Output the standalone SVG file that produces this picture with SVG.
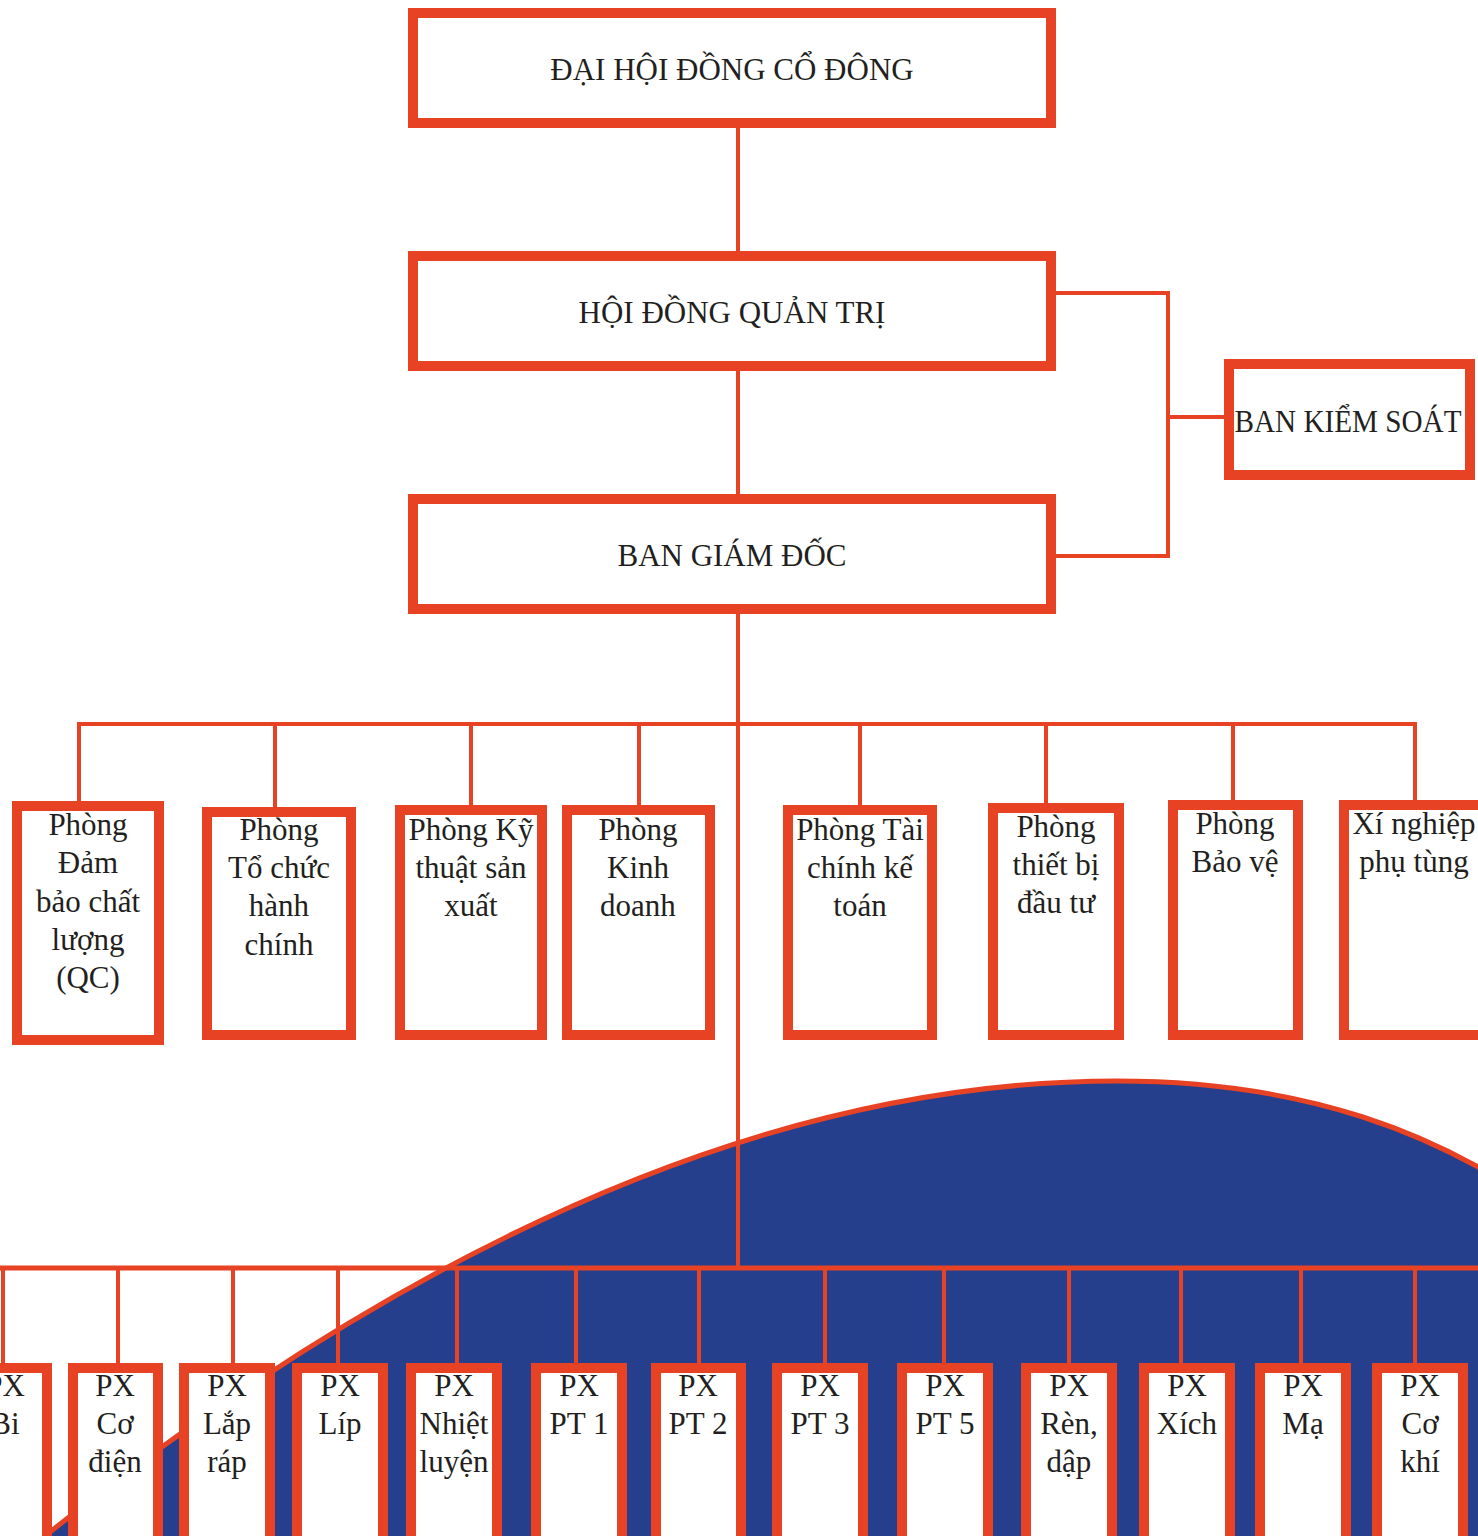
<svg xmlns="http://www.w3.org/2000/svg" width="1478" height="1536" viewBox="0 0 1478 1536">
  <style>
    .box { fill: #ffffff; stroke: #E84224; stroke-width: 10; }
    .line { stroke: #E84224; stroke-width: 4; fill: none; }
    .bus { stroke: #E84224; stroke-width: 5; fill: none; }
    .t { font-family: "Liberation Serif", "Times New Roman", serif; font-size: 31px; fill: #231F20; text-anchor: middle; }
  </style>

  <rect x="0" y="0" width="1478" height="1536" fill="#ffffff"/>

  <!-- blue backdrop hill behind the workshop row -->
  <path id="hill" d="M 40,1540 C 340,1300 717,1081 1117,1081 C 1300,1081 1440,1130 1560,1220 L 1600,1620 L -20,1620 Z" fill="#253F8D"/>

  <!-- connectors -->
  <g id="connectors">
    <!-- main trunk -->
    <line class="line" x1="738" y1="128" x2="738" y2="251"/>
    <line class="line" x1="738" y1="371" x2="738" y2="494"/>
    <line class="line" x1="738" y1="614" x2="738" y2="1268"/>
    <!-- supervisory board bracket -->
    <polyline class="line" points="1056,293 1168,293 1168,556 1056,556"/>
    <line class="line" x1="1168" y1="417" x2="1226" y2="417"/>
    <!-- departments bus -->
    <line class="line" x1="77" y1="724" x2="1417" y2="724"/>
    <line class="line" x1="79" y1="724" x2="79" y2="801"/>
    <line class="line" x1="275" y1="724" x2="275" y2="807"/>
    <line class="line" x1="471" y1="724" x2="471" y2="805"/>
    <line class="line" x1="639" y1="724" x2="639" y2="805"/>
    <line class="line" x1="860" y1="724" x2="860" y2="805"/>
    <line class="line" x1="1046" y1="724" x2="1046" y2="803"/>
    <line class="line" x1="1233" y1="724" x2="1233" y2="800"/>
    <line class="line" x1="1415" y1="724" x2="1415" y2="800"/>
    <!-- workshops bus -->
    <line class="bus" x1="0" y1="1268" x2="1478" y2="1268"/>
    <line class="line" x1="3" y1="1268" x2="3" y2="1363"/>
    <line class="line" x1="118" y1="1268" x2="118" y2="1363"/>
    <line class="line" x1="233" y1="1268" x2="233" y2="1363"/>
    <line class="line" x1="338" y1="1268" x2="338" y2="1363"/>
    <line class="line" x1="457" y1="1268" x2="457" y2="1363"/>
    <line class="line" x1="576" y1="1268" x2="576" y2="1363"/>
    <line class="line" x1="699" y1="1268" x2="699" y2="1363"/>
    <line class="line" x1="825" y1="1268" x2="825" y2="1363"/>
    <line class="line" x1="944" y1="1268" x2="944" y2="1363"/>
    <line class="line" x1="1069" y1="1268" x2="1069" y2="1363"/>
    <line class="line" x1="1181" y1="1268" x2="1181" y2="1363"/>
    <line class="line" x1="1301" y1="1268" x2="1301" y2="1363"/>
    <line class="line" x1="1415" y1="1268" x2="1415" y2="1363"/>
  </g>

  <!-- outline of the hill -->
  <path id="hill-edge" d="M 40,1540 C 340,1300 717,1081 1117,1081 C 1300,1081 1440,1130 1560,1220" fill="none" stroke="#E84224" stroke-width="5"/>

  <!-- top-level bodies -->
  <g id="dhdcd">
    <rect class="box" x="413" y="13" width="638" height="110"/>
    <text class="t" x="732" y="80">ĐẠI HỘI ĐỒNG CỔ ĐÔNG</text>
  </g>
  <g id="hdqt">
    <rect class="box" x="413" y="256" width="638" height="110"/>
    <text class="t" x="732" y="323">HỘI ĐỒNG QUẢN TRỊ</text>
  </g>
  <g id="bgd">
    <rect class="box" x="413" y="499" width="638" height="110"/>
    <text class="t" x="732" y="566">BAN GIÁM ĐỐC</text>
  </g>
  <g id="bks">
    <rect class="box" x="1229" y="364" width="241" height="111"/>
    <text class="t" x="1348" y="432" font-size="30" textLength="227" lengthAdjust="spacingAndGlyphs">BAN KIỂM SOÁT</text>
  </g>

  <!-- departments -->
  <g id="p-qc">
    <rect class="box" x="17" y="806" width="142" height="234"/>
    <text class="t" x="88"><tspan x="88" y="835">Phòng</tspan><tspan x="88" y="873">Đảm</tspan><tspan x="88" y="912">bảo chất</tspan><tspan x="88" y="950">lượng</tspan><tspan x="88" y="988">(QC)</tspan></text>
  </g>
  <g id="p-tchc">
    <rect class="box" x="207" y="812" width="144" height="223"/>
    <text class="t" x="279"><tspan x="279" y="840">Phòng</tspan><tspan x="279" y="878">Tổ chức</tspan><tspan x="279" y="916">hành</tspan><tspan x="279" y="955">chính</tspan></text>
  </g>
  <g id="p-ktsx">
    <rect class="box" x="400" y="810" width="142" height="225"/>
    <text class="t" x="471"><tspan x="471" y="840">Phòng Kỹ</tspan><tspan x="471" y="878">thuật sản</tspan><tspan x="471" y="916">xuất</tspan></text>
  </g>
  <g id="p-kd">
    <rect class="box" x="567" y="810" width="143" height="225"/>
    <text class="t" x="638"><tspan x="638" y="840">Phòng</tspan><tspan x="638" y="878">Kinh</tspan><tspan x="638" y="916">doanh</tspan></text>
  </g>
  <g id="p-tckt">
    <rect class="box" x="788" y="810" width="144" height="225"/>
    <text class="t" x="860"><tspan x="860" y="840">Phòng Tài</tspan><tspan x="860" y="878">chính kế</tspan><tspan x="860" y="916">toán</tspan></text>
  </g>
  <g id="p-tbdt">
    <rect class="box" x="993" y="808" width="126" height="227"/>
    <text class="t" x="1056"><tspan x="1056" y="837">Phòng</tspan><tspan x="1056" y="875">thiết bị</tspan><tspan x="1056" y="913">đầu tư</tspan></text>
  </g>
  <g id="p-bv">
    <rect class="box" x="1173" y="805" width="125" height="230"/>
    <text class="t" x="1235"><tspan x="1235" y="834">Phòng</tspan><tspan x="1235" y="872">Bảo vệ</tspan></text>
  </g>
  <g id="xn-pt">
    <rect class="box" x="1344" y="805" width="150" height="230"/>
    <text class="t" x="1414"><tspan x="1414" y="834">Xí nghiệp</tspan><tspan x="1414" y="872">phụ tùng</tspan></text>
  </g>

  <!-- workshops -->
  <g id="px-bi">
    <rect class="box" x="-38" y="1368" width="85" height="200"/>
    <text class="t"><tspan x="5" y="1396">PX</tspan><tspan x="5" y="1434">Bi</tspan></text>
  </g>
  <g id="px-codien">
    <rect class="box" x="73" y="1368" width="85" height="200"/>
    <text class="t"><tspan x="115" y="1396">PX</tspan><tspan x="115" y="1434">Cơ</tspan><tspan x="115" y="1472">điện</tspan></text>
  </g>
  <g id="px-laprap">
    <rect class="box" x="184" y="1368" width="86" height="200"/>
    <text class="t"><tspan x="227" y="1396">PX</tspan><tspan x="227" y="1434">Lắp</tspan><tspan x="227" y="1472">ráp</tspan></text>
  </g>
  <g id="px-lip">
    <rect class="box" x="297" y="1368" width="86" height="200"/>
    <text class="t"><tspan x="340" y="1396">PX</tspan><tspan x="340" y="1434">Líp</tspan></text>
  </g>
  <g id="px-nhietluyen">
    <rect class="box" x="411" y="1368" width="86" height="200"/>
    <text class="t"><tspan x="454" y="1396">PX</tspan><tspan x="454" y="1434">Nhiệt</tspan><tspan x="454" y="1472">luyện</tspan></text>
  </g>
  <g id="px-pt1">
    <rect class="box" x="536" y="1368" width="86" height="200"/>
    <text class="t"><tspan x="579" y="1396">PX</tspan><tspan x="579" y="1434">PT 1</tspan></text>
  </g>
  <g id="px-pt2">
    <rect class="box" x="656" y="1368" width="85" height="200"/>
    <text class="t"><tspan x="698" y="1396">PX</tspan><tspan x="698" y="1434">PT 2</tspan></text>
  </g>
  <g id="px-pt3">
    <rect class="box" x="777" y="1368" width="86" height="200"/>
    <text class="t"><tspan x="820" y="1396">PX</tspan><tspan x="820" y="1434">PT 3</tspan></text>
  </g>
  <g id="px-pt5">
    <rect class="box" x="902" y="1368" width="86" height="200"/>
    <text class="t"><tspan x="945" y="1396">PX</tspan><tspan x="945" y="1434">PT 5</tspan></text>
  </g>
  <g id="px-rendap">
    <rect class="box" x="1026" y="1368" width="86" height="200"/>
    <text class="t"><tspan x="1069" y="1396">PX</tspan><tspan x="1069" y="1434">Rèn,</tspan><tspan x="1069" y="1472">dập</tspan></text>
  </g>
  <g id="px-xich">
    <rect class="box" x="1144" y="1368" width="86" height="200"/>
    <text class="t"><tspan x="1187" y="1396">PX</tspan><tspan x="1187" y="1434">Xích</tspan></text>
  </g>
  <g id="px-ma">
    <rect class="box" x="1260" y="1368" width="86" height="200"/>
    <text class="t"><tspan x="1303" y="1396">PX</tspan><tspan x="1303" y="1434">Mạ</tspan></text>
  </g>
  <g id="px-cokhi">
    <rect class="box" x="1377" y="1368" width="86" height="200"/>
    <text class="t"><tspan x="1420" y="1396">PX</tspan><tspan x="1420" y="1434">Cơ</tspan><tspan x="1420" y="1472">khí</tspan></text>
  </g>
</svg>
